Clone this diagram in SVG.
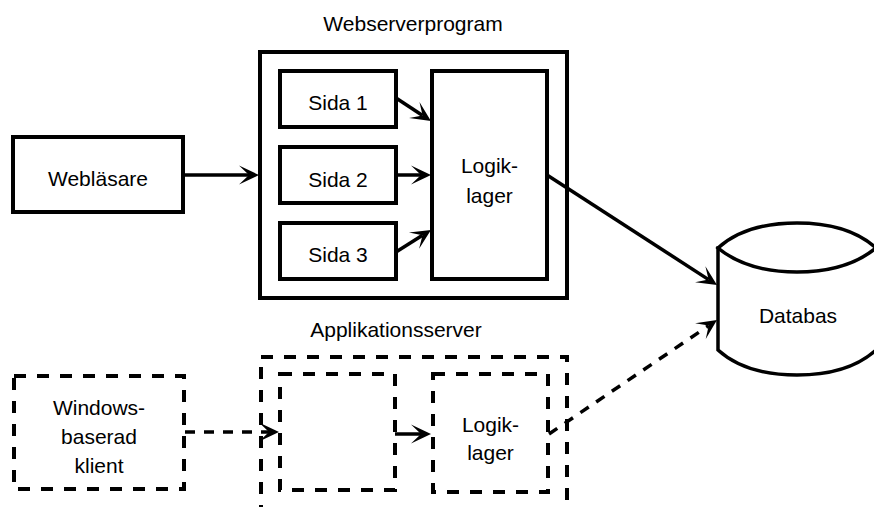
<svg xmlns="http://www.w3.org/2000/svg" width="874" height="507" viewBox="0 0 874 507">
  <style>
    text { font-family: "Liberation Sans", Arial, sans-serif; font-size: 21px; fill: #000; text-anchor: middle; }
    .box { fill: #fff; stroke: #000; stroke-width: 4; }
    .dbox { fill: none; stroke: #000; stroke-width: 4; stroke-dasharray: 12 11; }
    .db { fill: #fff; stroke: #000; stroke-width: 3.5; }
    .edge { fill: none; stroke: #000; stroke-width: 3.5; marker-end: url(#arrow); }
    .dashed { stroke-dasharray: 10 9; }
  </style>
  <defs>
    <marker id="arrow" markerUnits="userSpaceOnUse" viewBox="-11 -11 23 22" markerWidth="23" markerHeight="22" refX="0" refY="0" orient="auto">
      <path d="M10,0 L-10,-9.5 L0,0 L-10,9.5 Z" fill="#000"/>
    </marker>
  </defs>

  <!-- Web server program container -->
  <g id="webserver">
    <rect class="box" x="260" y="52" width="307" height="246"/>
    <text x="413" y="31">Webserverprogram</text>
  </g>
  <g id="weblasare">
    <rect class="box" x="13" y="137" width="170" height="75"/>
    <text x="98" y="186">Webläsare</text>
  </g>
  <g id="sida1">
    <rect class="box" x="280" y="71" width="116" height="56"/>
    <text x="338" y="110">Sida 1</text>
  </g>
  <g id="sida2">
    <rect class="box" x="280" y="147" width="116" height="56"/>
    <text x="338" y="187">Sida 2</text>
  </g>
  <g id="sida3">
    <rect class="box" x="280" y="223" width="116" height="56"/>
    <text x="338" y="262">Sida 3</text>
  </g>
  <g id="logik1">
    <rect class="box" x="432" y="71" width="115" height="208"/>
    <text x="489.5" y="173">Logik-</text>
    <text x="489.5" y="203">lager</text>
  </g>

  <!-- Application server container -->
  <g id="appserver">
    <rect class="dbox" x="261" y="357" width="306" height="165"/>
    <text x="396" y="337">Applikationsserver</text>
  </g>
  <g id="windowsklient">
    <rect class="dbox" x="14" y="376" width="170" height="113"/>
    <text x="99" y="415">Windows-</text>
    <text x="99" y="444">baserad</text>
    <text x="99" y="473">klient</text>
  </g>
  <g id="appinner">
    <rect class="dbox" x="280" y="374" width="115" height="116"/>
  </g>
  <g id="logik2">
    <rect class="dbox" x="433" y="374" width="115" height="118"/>
    <text x="490.5" y="432">Logik-</text>
    <text x="490.5" y="460">lager</text>
  </g>

  <!-- Database cylinder -->
  <g id="databas">
    <path class="db" d="M718,248 L718,350 C740,370 770,375 797,375 C824,375 854,370 876,350 L876,248 Z"/>
    <path class="db" d="M718,248 C740,228 770,223 797,223 C824,223 854,228 876,248 C854,266 824,272 797,272 C770,272 740,266 718,248 Z"/>
    <text x="798" y="323">Databas</text>
  </g>

  <!-- Connectors -->
  <g id="connectors">
    <line class="edge" x1="183" y1="175" x2="249" y2="175"/>
    <line class="edge" x1="396" y1="98" x2="422.6" y2="115.5"/>
    <line class="edge" x1="396" y1="175" x2="421" y2="175"/>
    <line class="edge" x1="396" y1="252" x2="422.5" y2="235.3"/>
    <line class="edge" x1="547" y1="175" x2="708.6" y2="279.6"/>
    <line class="edge dashed" x1="185" y1="432" x2="269" y2="432"/>
    <line class="edge" x1="395" y1="434" x2="421" y2="434"/>
    <line class="edge dashed" x1="549" y1="434" x2="708.7" y2="325.6"/>
  </g>
</svg>
